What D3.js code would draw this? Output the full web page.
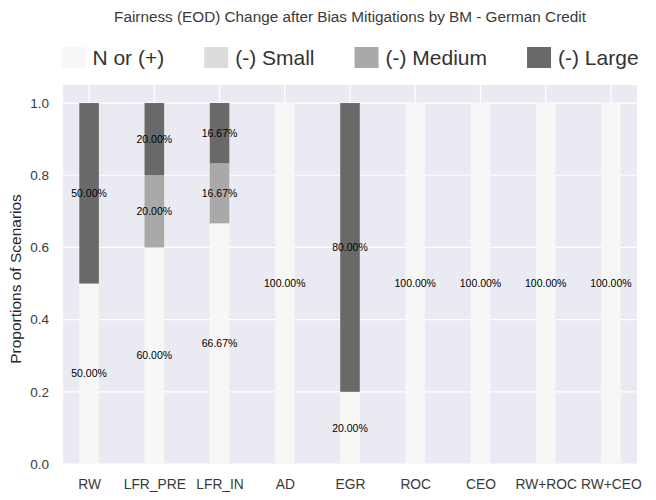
<!DOCTYPE html>
<html>
<head>
<meta charset="utf-8">
<script src="https://cdn.jsdelivr.net/npm/d3@7"></script>
<style>
  body { margin: 0; background: #fff; }
  text { font-family: "Liberation Sans", Arial, sans-serif; }
</style>
</head>
<body>
<div id="chart"></div>
<script>
// data
const categories = ['RW', 'LFR_PRE', 'LFR_IN', 'AD', 'EGR', 'ROC', 'CEO', 'RW+ROC', 'RW+CEO'];
const nOrPlus = [0.5, 0.6, 0.6667, 1.0, 0.2, 1.0, 1.0, 1.0, 1.0];
const smallNeg = [0, 0, 0, 0, 0, 0, 0, 0, 0];
const mediumNeg = [0, 0.2, 0.1667, 0, 0, 0, 0, 0, 0];
const largeNeg = [0.5, 0.2, 0.1667, 0, 0.8, 0, 0, 0, 0];
const seriesNames = ['N or (+)', '(-) Small', '(-) Medium', '(-) Large'];
const yTicks = [0, 0.2, 0.4, 0.6, 0.8, 1.0];

const colors = ['#f7f7f7', '#dcdcdc', '#a9a9a9', '#696969'];
const width = 656;
const height = 500;
const plot = { left: 63, right: 637, top: 85, bottom: 464 };

const svg = d3.select('#chart')
  .append('svg')
  .attr('width', width)
  .attr('height', height);

const x = d3.scaleLinear().domain([-0.4, 8.4]).range([plot.left, plot.right]);
const y = d3.scaleLinear().domain([0, 1.05]).range([plot.bottom, plot.top]);
const barW = x(0.3) - x(0);

// background
svg.append('rect')
  .attr('x', plot.left)
  .attr('y', plot.top)
  .attr('width', plot.right - plot.left)
  .attr('height', plot.bottom - plot.top)
  .attr('fill', '#eaeaf2');

// grid
svg.append('g')
  .selectAll('line')
  .data(yTicks)
  .join('line')
  .attr('x1', plot.left)
  .attr('x2', plot.right)
  .attr('y1', (d) => y(d))
  .attr('y2', (d) => y(d))
  .attr('stroke', '#fff')
  .attr('stroke-width', 1.2);
svg.append('g')
  .selectAll('line')
  .data(categories)
  .join('line')
  .attr('x1', (d, i) => x(i))
  .attr('x2', (d, i) => x(i))
  .attr('y1', plot.top)
  .attr('y2', plot.bottom)
  .attr('stroke', '#fff')
  .attr('stroke-width', 1.2);

// stacked bars
const table = categories.map((c, i) => ({
  cat: c,
  i,
  s0: nOrPlus[i],
  s1: smallNeg[i],
  s2: mediumNeg[i],
  s3: largeNeg[i],
}));
const stack = d3.stack().keys(['s0', 's1', 's2', 's3'])(table);

const layers = svg.selectAll('.layer')
  .data(stack)
  .join('g')
  .attr('class', 'layer')
  .attr('fill', (d, k) => colors[k]);
layers.selectAll('rect')
  .data((d) => d)
  .join('rect')
  .attr('x', (d) => x(d.data.i) - barW / 2)
  .attr('y', (d) => y(d[1]))
  .attr('width', barW)
  .attr('height', (d) => y(d[0]) - y(d[1]));

// value labels (skip empty segments)
const labels = [];
stack.forEach((layer) => {
  layer.forEach((d) => {
    const v = d[1] - d[0];
    if (v > 0) labels.push({ i: d.data.i, v, mid: (d[0] + d[1]) / 2 });
  });
});
svg.append('g')
  .selectAll('text')
  .data(labels)
  .join('text')
  .attr('x', (d) => x(d.i))
  .attr('y', (d) => y(d.mid))
  .attr('dy', '0.35em')
  .attr('text-anchor', 'middle')
  .attr('font-size', 10.5)
  .attr('fill', '#000')
  .text((d) => `${(d.v * 100).toFixed(2)}%`);

// y axis
const yAxis = svg.append('g')
  .attr('transform', `translate(${plot.left},0)`)
  .call(d3.axisLeft(y).tickValues(yTicks).tickFormat(d3.format('.1f')).tickSize(0).tickPadding(14));
yAxis.select('.domain').remove();
yAxis.selectAll('text')
  .attr('font-size', 13.5)
  .attr('fill', '#3a3a3a')
  .style('font-family', '"Liberation Sans", Arial, sans-serif');

// x axis
const xAxis = svg.append('g')
  .attr('transform', `translate(0,${plot.bottom})`)
  .call(d3.axisBottom(x).tickValues(d3.range(categories.length)).tickFormat((i) => categories[i]).tickSize(0).tickPadding(15));
xAxis.select('.domain').remove();
xAxis.selectAll('text')
  .attr('font-size', 13.8)
  .attr('fill', '#3a3a3a')
  .style('font-family', '"Liberation Sans", Arial, sans-serif');

// y label
svg.append('text')
  .attr('transform', 'translate(21,279) rotate(-90)')
  .attr('text-anchor', 'middle')
  .attr('font-size', 15.5)
  .attr('fill', '#262626')
  .text('Proportions of Scenarios');

// title
svg.append('text')
  .attr('x', (plot.left + plot.right) / 2)
  .attr('y', 22)
  .attr('text-anchor', 'middle')
  .attr('font-size', 15.3)
  .attr('fill', '#3a3a3a')
  .text('Fairness (EOD) Change after Bias Mitigations by BM - German Credit');

// legend
const legend = svg.append('g');
const items = legend.selectAll('g')
  .data(seriesNames)
  .join('g');
items.append('rect')
  .attr('width', 24)
  .attr('height', 21)
  .attr('y', 47)
  .attr('fill', (d, k) => colors[k]);
items.append('text')
  .attr('x', 31)
  .attr('y', 65)
  .attr('font-size', 21)
  .attr('fill', '#333')
  .text((d) => d);
const widths = [];
items.each(function () {
  widths.push(31 + this.querySelector('text').getComputedTextLength());
});
const gap = 40;
const total = d3.sum(widths) + gap * (widths.length - 1);
let cursor = (plot.left + plot.right) / 2 - total / 2;
items.attr('transform', (d, k) => {
  const t = `translate(${cursor},0)`;
  cursor += widths[k] + gap;
  return t;
});
</script>
</body>
</html>
